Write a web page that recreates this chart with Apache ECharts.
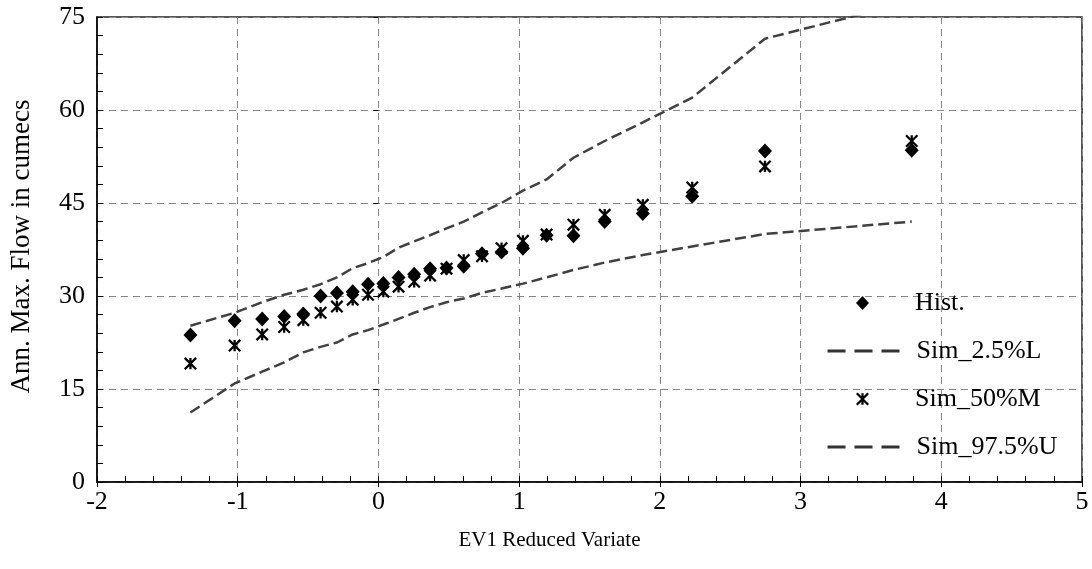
<!DOCTYPE html>
<html>
<head>
<meta charset="utf-8">
<script src="https://cdn.jsdelivr.net/npm/echarts@6/dist/echarts.min.js"></script>
<style>
html,body{margin:0;padding:0;background:#fff;}
#chart{width:1092px;height:569px;}
</style>
</head>
<body>
<div id="chart"></div>
<script>
// EV1 reduced variate of each ranked observation
var evx = [-1.336,-1.022,-0.826,-0.670,-0.534,-0.411,-0.295,-0.183,-0.074,0.035,0.143,0.254,0.367,0.484,0.606,0.736,0.875,1.027,1.195,1.386,1.608,1.879,2.230,2.747,3.790];
var hist = [23.7,26.0,26.3,26.7,27.1,30.0,30.5,30.7,31.9,32.0,33.0,33.5,34.4,34.5,34.8,36.8,37.1,37.7,39.8,39.7,42.0,43.3,46.1,53.4,53.5];
var simLow = [11.2,15.9,17.8,19.3,20.9,21.8,22.5,23.8,24.5,25.4,26.3,27.3,28.2,29.0,29.6,30.5,31.2,32.0,33.0,34.2,35.4,36.6,38.0,40.0,42.0];
var simMid = [19.1,22.0,23.8,25.0,26.1,27.3,28.3,29.4,30.2,30.7,31.5,32.3,33.3,34.4,35.8,36.4,37.7,38.9,39.9,41.5,43.1,44.7,47.5,50.9,55.0];
var simUp = [25.2,27.3,29.0,30.2,31.0,31.9,33.0,34.5,35.3,36.3,37.8,38.8,39.8,40.9,42.0,43.5,45.0,47.0,48.8,52.3,55.0,58.0,62.0,71.5,77.5];
var seriesNames = ['Hist.','Sim_2.5%L','Sim_50%M','Sim_97.5%U'];
var xTitle = 'EV1 Reduced Variate';
var yTitle = 'Ann. Max. Flow in cumecs';

function pairs(xs, ys){ return xs.map(function(x,i){ return [x, ys[i]]; }); }

var asterisk = 'path://M40 0L60 0L60 100L40 100Z' +
  'M7.07 -7.07L107.07 92.93L92.93 107.07L-7.07 7.07Z' +
  'M107.07 7.07L7.07 107.07L-7.07 92.93L92.93 -7.07Z';

var font = 'Liberation Serif';
var fs = 26;
var legendText = {fontFamily:font,fontSize:fs,color:'#000',lineHeight:26};
var gridDash = {show:true,lineStyle:{color:'#888',type:[7,5],width:1}};

var chart = echarts.init(document.getElementById('chart'));
chart.setOption({
  backgroundColor:'#fff',
  animation:false,
  textStyle:{fontFamily:font,color:'#000'},
  grid:{left:95,right:10,top:17,bottom:87,show:true,borderColor:'#222',borderWidth:1.5,backgroundColor:'transparent'},
  legend:[
    {orient:'vertical', left:851, top:285, itemWidth:13, itemHeight:14, itemGap:70,
     textStyle:Object.assign({padding:[0,0,0,41]},legendText),
     itemStyle:{opacity:1},
     data:[seriesNames[0],seriesNames[2]]},
    {orient:'vertical', left:821, top:333, itemWidth:75, itemHeight:14, itemGap:70,
     textStyle:Object.assign({padding:[0,0,0,9]},legendText),
     lineStyle:{type:[18,9],width:3,color:'#333'},
     data:[{name:seriesNames[1],itemStyle:{color:'transparent',borderColor:'transparent',opacity:0}},
           {name:seriesNames[3],itemStyle:{color:'transparent',borderColor:'transparent',opacity:0}}]}
  ],
  xAxis:[{
    type:'value', min:-2, max:5, interval:1,
    name:xTitle, nameLocation:'middle', nameGap:48,
    nameTextStyle:{fontFamily:font,fontSize:21,color:'#000',padding:[0,80,0,0]},
    axisLine:{onZero:false,lineStyle:{color:'#000',width:1.5}},
    axisTick:{show:true,inside:true,length:6,lineStyle:{color:'#000'}},
    minorTick:{show:true,splitNumber:5,length:6,lineStyle:{color:'#000'}},
    axisLabel:{fontFamily:font,fontSize:fs,color:'#000',margin:7},
    splitLine:gridDash
  },{
    type:'value', min:-2, max:5, interval:1, position:'bottom', offset:0,
    axisLine:{show:false},
    axisTick:{show:true,inside:false,length:5,lineStyle:{color:'#000'}},
    axisLabel:{show:false}, splitLine:{show:false}
  }],
  yAxis:[{
    type:'value', min:0, max:75, interval:15,
    name:yTitle, nameLocation:'middle', nameGap:62, nameRotate:90,
    nameTextStyle:{fontFamily:font,fontSize:27,color:'#000',padding:[0,0,0,6]},
    axisLine:{show:true,onZero:false,lineStyle:{color:'#000',width:1.5}},
    axisTick:{show:true,inside:true,length:6,lineStyle:{color:'#000'}},
    minorTick:{show:true,splitNumber:5,length:6,lineStyle:{color:'#000'}},
    axisLabel:{fontFamily:font,fontSize:fs,color:'#000',margin:12},
    splitLine:gridDash
  },{
    type:'value', min:0, max:75, interval:15, position:'left', offset:0,
    axisLine:{show:false},
    axisTick:{show:true,inside:false,length:5,lineStyle:{color:'#000'}},
    axisLabel:{show:false}, splitLine:{show:false}
  }],
  series:[
    {name:seriesNames[0],type:'scatter',symbol:'diamond',symbolSize:[14,15],
     itemStyle:{color:'#000',opacity:1},data:pairs(evx,hist),z:4},
    {name:seriesNames[1],type:'line',symbol:'none',clip:true,
     lineStyle:{color:'#404040',width:2.5,type:[11,5]},itemStyle:{color:'#404040'},
     data:pairs(evx,simLow),z:3},
    {name:seriesNames[2],type:'scatter',symbol:asterisk,symbolSize:13,
     itemStyle:{color:'#000',opacity:1},data:pairs(evx,simMid),z:5},
    {name:seriesNames[3],type:'line',symbol:'none',clip:true,
     lineStyle:{color:'#404040',width:2.5,type:[11,5]},itemStyle:{color:'#404040'},
     data:pairs(evx,simUp),z:3}
  ]
});
</script>
</body>
</html>
